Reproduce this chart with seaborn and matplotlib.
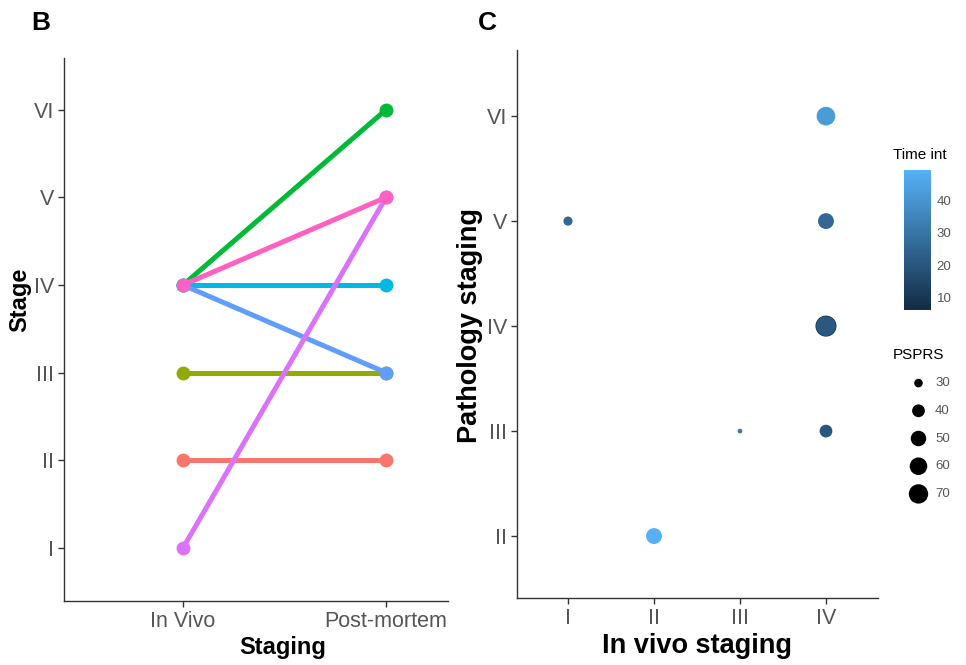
import numpy as np
import pandas as pd
import matplotlib
matplotlib.use("Agg")
import matplotlib.pyplot as plt
import seaborn as sns
from matplotlib.colors import LinearSegmentedColormap, Normalize
from matplotlib.cm import ScalarMappable

# Panel B: stage of each patient, in vivo vs post-mortem
patients = ["P1", "P3", "P4", "P6", "P7", "P8", "P9"]
in_vivo = [2, 3, 4, 4, 4, 1, 4]
post_mortem = [2, 3, 6, 4, 3, 5, 5]
line_colors = ["#F8766D", "#93AA00", "#00BA38", "#00B9E3", "#619CFF", "#DB72FB", "#FF61C3"]
staging_labels = ["In Vivo", "Post-mortem"]
roman = ["I", "II", "III", "IV", "V", "VI"]

# Panel C: in vivo vs pathology staging, colour = time interval, size = PSPRS
c_invivo = [1, 2, 3, 4, 4, 4, 4, 4]
c_path = [5, 2, 3, 6, 5, 4, 4, 3]
c_time = [26, 49, 31, 42, 26, 6, 21, 20]
c_psprs = [31, 52, 27, 66, 52, 80, 72, 40]
legend_psprs = [30, 40, 50, 60, 70]
cbar_ticks = [10, 20, 30, 40]

sns.set_style("white")
plt.rcParams["font.family"] = ["Liberation Sans", "DejaVu Sans"]

grey = "#555555"
dark = "#333333"

df_b = pd.DataFrame({
    "patient": patients * 2,
    "staging": [staging_labels[0]] * len(patients) + [staging_labels[1]] * len(patients),
    "stage": in_vivo + post_mortem,
})

df_c = pd.DataFrame({"invivo": c_invivo, "path": c_path, "time": c_time, "psprs": c_psprs})

# ggplot-like area scale for PSPRS
p_lo, p_hi = min(c_psprs), max(c_psprs)
def psprs_size(v):
    t = np.clip((v - p_lo) / (p_hi - p_lo), 0, 1)
    d_px = 4.7 + 16.3 * np.sqrt(t)
    return (d_px * 0.72) ** 2

size_map = {v: psprs_size(v) for v in set(c_psprs) | set(legend_psprs)}
cmap = LinearSegmentedColormap.from_list("gg", ["#132B43", "#56B1F7"])
t_norm = Normalize(6.3, 49.2)

fig = plt.figure(figsize=(9.66, 6.65), dpi=100)
W, H = 966, 665

def box(x0, y0, x1, y1):
    return [x0 / W, 1 - y1 / H, (x1 - x0) / W, (y1 - y0) / H]

# ---- panel B
axb = fig.add_axes(box(64, 58, 448, 601))
sns.lineplot(data=df_b, x="staging", y="stage", hue="patient", hue_order=patients,
             palette=dict(zip(patients, line_colors)), linewidth=3.6, marker="o",
             markersize=10, markeredgewidth=0, legend=False, ax=axb)
axb.set_xlim(-0.586, 1.305)
axb.set_ylim(0.395, 6.59)
axb.set_yticks(range(1, 7))
axb.set_yticklabels(roman)
axb.set_xlabel("Staging", fontsize=17, fontweight="bold", color="black")
axb.set_ylabel("Stage", fontsize=17, fontweight="bold", color="black")
axb.xaxis.set_label_coords(0.57, -0.064)
axb.yaxis.set_label_coords(-0.085, 0.554)

# ---- panel C
axc = fig.add_axes(box(517, 50, 878, 598))
sns.scatterplot(data=df_c, x="invivo", y="path", hue="time", palette=cmap, hue_norm=t_norm,
                size="psprs", sizes=size_map, linewidth=0, legend=False, ax=axc)
axc.set_xlim(0.407, 4.605)
axc.set_ylim(1.41, 6.63)
axc.set_xticks(range(1, 5))
axc.set_xticklabels(roman[:4])
axc.set_yticks(range(2, 7))
axc.set_yticklabels(roman[1:])
axc.set_xlabel("In vivo staging", fontsize=19.5, fontweight="bold", color="black")
axc.set_ylabel("Pathology staging", fontsize=19.5, fontweight="bold", color="black")
axc.xaxis.set_label_coords(0.5, -0.064)
axc.yaxis.set_label_coords(-0.094, 0.498)

for ax in (axb, axc):
    sns.despine(ax=ax)
    for s in ("left", "bottom"):
        ax.spines[s].set_color(dark)
        ax.spines[s].set_linewidth(1.0)
    ax.tick_params(axis="both", direction="out", length=4, width=1, color=dark,
                   labelsize=15.5, labelcolor=grey, left=True, bottom=True, pad=3)

fig.text(31 / W, 1 - 23 / H, "B", fontsize=19, fontweight="bold", va="center", color="black")
fig.text(478 / W, 1 - 23 / H, "C", fontsize=19, fontweight="bold", va="center", color="black")

# colour bar
cax = fig.add_axes(box(904, 170, 931, 310))
cb = fig.colorbar(ScalarMappable(norm=t_norm, cmap=cmap), cax=cax, ticks=cbar_ticks)
cb.outline.set_visible(False)
cax.tick_params(direction="in", length=4, width=0.8, color="white", labelsize=9.5,
                labelcolor=grey, pad=4)
fig.text(893 / W, 1 - 155 / H, "Time int", fontsize=11, va="center", color="black")

# size legend
fig.text(893 / W, 1 - 355 / H, "PSPRS", fontsize=11, va="center", color="black")
axl = fig.add_axes(box(900, 372, 966, 505))
leg_df = pd.DataFrame({"x": [0.28] * len(legend_psprs), "y": legend_psprs, "s": legend_psprs})
sns.scatterplot(data=leg_df, x="x", y="y", size="s", sizes=size_map, color="black",
                linewidth=0, legend=False, ax=axl)
for v in legend_psprs:
    axl.text(0.53, v, str(v), fontsize=9.5, color=grey, va="center")
axl.set_xlim(0, 1)
axl.set_ylim(74, 26)
axl.axis("off")

fig.savefig("out.png", dpi=100)
